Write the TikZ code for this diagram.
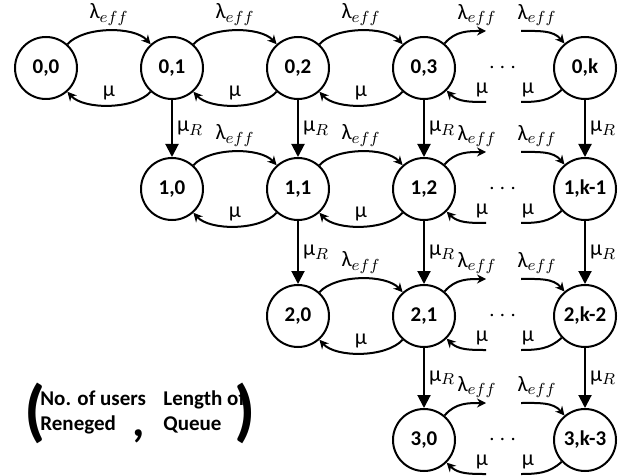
\documentclass[tikz,border=0pt]{standalone}
\usepackage{fontspec}
\setmainfont{Carlito}
\usepackage{amsmath}
\usepackage{tikz}
\usetikzlibrary{positioning, arrows.meta}

\begin{document}
\begin{tikzpicture}[on grid, node distance=63pt,
    state/.style={circle, draw, line width=1pt, minimum size=31pt, inner sep=0pt, font=\fontsize{10.5}{12}\selectfont\bfseries},
    trans/.style={line width=1pt, -{Stealth[length=4.5pt, width=4.5pt]}},
    reneg/.style={line width=1pt, -{Triangle[length=6.5pt, width=6.5pt]}},
    hop/.style={trans, bend left=48, looseness=0.75},
    rate/.style={font=\fontsize{11}{13}\selectfont, inner sep=2pt},
    gap/.style={font=\fontsize{12.5}{12.5}\selectfont},
    key/.style={anchor=west, align=left, inner sep=0pt, font=\fontsize{10.5}{12.5}\selectfont\bfseries},
    brace/.style={inner sep=0pt, font=\fontsize{34}{34}\selectfont\bfseries}]
                \useasboundingbox (-23pt,34pt) rectangle (289pt,-203.5pt);
                % states (users reneged, queue length)
                \node [state] (n00) {0,0};
                \node [state, right = of n00] (n01) {0,1};
                \node [state, right = of n01] (n02) {0,2};
                \node [state, right = of n02] (n03) {0,3};
                \node [state, right = 80.5pt of n03] (n0k) {0,k};
                \node [state, below = 60.5pt of n01] (n10) {1,0};
                \node [state, right = of n10] (n11) {1,1};
                \node [state, right = of n11] (n12) {1,2};
                \node [state, below = 60.5pt of n0k] (n1k) {1,k-1};
                \node [state, below = 63.5pt of n11] (n20) {2,0};
                \node [state, right = of n20] (n21) {2,1};
                \node [state, below = 63.5pt of n1k] (n2k) {2,k-2};
                \node [state, below = 62pt of n21] (n30) {3,0};
                \node [state, below = 62pt of n2k] (n3k) {3,k-3};
                % dots
                \path (n03) -- (n0k) node [gap, midway] (d0) {$\cdots$};
                \path (n12) -- (n1k) node [gap, midway] (d1) {$\cdots$};
                \path (n21) -- (n2k) node [gap, midway] (d2) {$\cdots$};
                \path (n30) -- (n3k) node [gap, midway] (d3) {$\cdots$};
                % loose ends round the dots
                \coordinate [above right = 18.5pt and 31pt of n03] (o0a);
                \coordinate [below right = 17pt and 31pt of n03] (o0b);
                \coordinate [above left = 18.5pt and 32pt of n0k] (i0a);
                \coordinate [below left = 17pt and 32pt of n0k] (i0b);
                \coordinate [above right = 18.5pt and 31pt of n12] (o1a);
                \coordinate [below right = 17pt and 31pt of n12] (o1b);
                \coordinate [above left = 18.5pt and 32pt of n1k] (i1a);
                \coordinate [below left = 17pt and 32pt of n1k] (i1b);
                \coordinate [above right = 18.5pt and 31pt of n21] (o2a);
                \coordinate [below right = 17pt and 31pt of n21] (o2b);
                \coordinate [above left = 18.5pt and 32pt of n2k] (i2a);
                \coordinate [below left = 17pt and 32pt of n2k] (i2b);
                \coordinate [above right = 18.5pt and 31pt of n30] (o3a);
                \coordinate [below right = 17pt and 31pt of n30] (o3b);
                \coordinate [above left = 18.5pt and 32pt of n3k] (i3a);
                \coordinate [below left = 17pt and 32pt of n3k] (i3b);
                % row 0
                \draw [hop] (n00) to node [rate, above] {λ$_{eff}$} (n01);
                \draw [hop] (n01) to node [rate, above] {μ} (n00);
                \draw [hop] (n01) to node [rate, above] {λ$_{eff}$} (n02);
                \draw [hop] (n02) to node [rate, above] {μ} (n01);
                \draw [hop] (n02) to node [rate, above] {λ$_{eff}$} (n03);
                \draw [hop] (n03) to node [rate, above] {μ} (n02);
                \draw [trans] (n03) to [out=50, in=180] (o0a) node [rate, above, xshift=-4.5pt] {λ$_{eff}$};
                \draw [trans] (o0b) node [rate, above, xshift=-2pt] {μ} to [out=180, in=-45] (n03);
                \draw [trans] (i0a) node [rate, above, xshift=8pt] {λ$_{eff}$} to [out=0, in=130] (n0k);
                \draw [line width=1pt] (n0k) to [out=-137, in=0] (i0b) node [rate, above, xshift=3.5pt] {μ};
                % row 1
                \draw [hop] (n10) to node [rate, above] {λ$_{eff}$} (n11);
                \draw [hop] (n11) to node [rate, above] {μ} (n10);
                \draw [hop] (n11) to node [rate, above] {λ$_{eff}$} (n12);
                \draw [hop] (n12) to node [rate, above] {μ} (n11);
                \draw [trans] (n12) to [out=50, in=180] (o1a) node [rate, above, xshift=-4.5pt] {λ$_{eff}$};
                \draw [trans] (o1b) node [rate, above, xshift=-2pt] {μ} to [out=180, in=-45] (n12);
                \draw [trans] (i1a) node [rate, above, xshift=8pt] {λ$_{eff}$} to [out=0, in=130] (n1k);
                \draw [line width=1pt] (n1k) to [out=-137, in=0] (i1b) node [rate, above, xshift=3.5pt] {μ};
                % row 2
                \draw [hop] (n20) to node [rate, above] {λ$_{eff}$} (n21);
                \draw [hop] (n21) to node [rate, above] {μ} (n20);
                \draw [trans] (n21) to [out=50, in=180] (o2a) node [rate, above, xshift=-4.5pt] {λ$_{eff}$};
                \draw [trans] (o2b) node [rate, above, xshift=-2pt] {μ} to [out=180, in=-45] (n21);
                \draw [trans] (i2a) node [rate, above, xshift=8pt] {λ$_{eff}$} to [out=0, in=130] (n2k);
                \draw [line width=1pt] (n2k) to [out=-137, in=0] (i2b) node [rate, above, xshift=3.5pt] {μ};
                % row 3
                \draw [trans] (n30) to [out=50, in=180] (o3a) node [rate, above, xshift=-4.5pt] {λ$_{eff}$};
                \draw [trans] (o3b) node [rate, above, xshift=-2pt] {μ} to [out=180, in=-45] (n30);
                \draw [trans] (i3a) node [rate, above, xshift=8pt] {λ$_{eff}$} to [out=0, in=130] (n3k);
                \draw [line width=1pt] (n3k) to [out=-137, in=0] (i3b) node [rate, above, xshift=3.5pt] {μ};
                % reneging
                \draw [reneg] (n01) -- (n10) node [rate, midway, right] {μ$_R$};
                \draw [reneg] (n02) -- (n11) node [rate, midway, right] {μ$_R$};
                \draw [reneg] (n03) -- (n12) node [rate, midway, right] {μ$_R$};
                \draw [reneg] (n0k) -- (n1k) node [rate, midway, right] {μ$_R$};
                \draw [reneg] (n11) -- (n20) node [rate, midway, right] {μ$_R$};
                \draw [reneg] (n12) -- (n21) node [rate, midway, right] {μ$_R$};
                \draw [reneg] (n1k) -- (n2k) node [rate, midway, right] {μ$_R$};
                \draw [reneg] (n21) -- (n30) node [rate, midway, right] {μ$_R$};
                \draw [reneg] (n2k) -- (n3k) node [rate, midway, right] {μ$_R$};
                % key
                \node [brace] (lp) at (-5.5pt,-172.5pt) {(};
                \node [key] (who) at (-3pt,-172pt) {No. of users\\Reneged};
                \node [inner sep=0pt, font=\fontsize{24}{24}\selectfont\bfseries] (sep) at (46.5pt,-184pt) {,};
                \node [key] (len) at (58.5pt,-172pt) {Length of\\Queue};
                \node [brace] (rp) at (99.5pt,-172.5pt) {)};
\end{tikzpicture}
\end{document}
